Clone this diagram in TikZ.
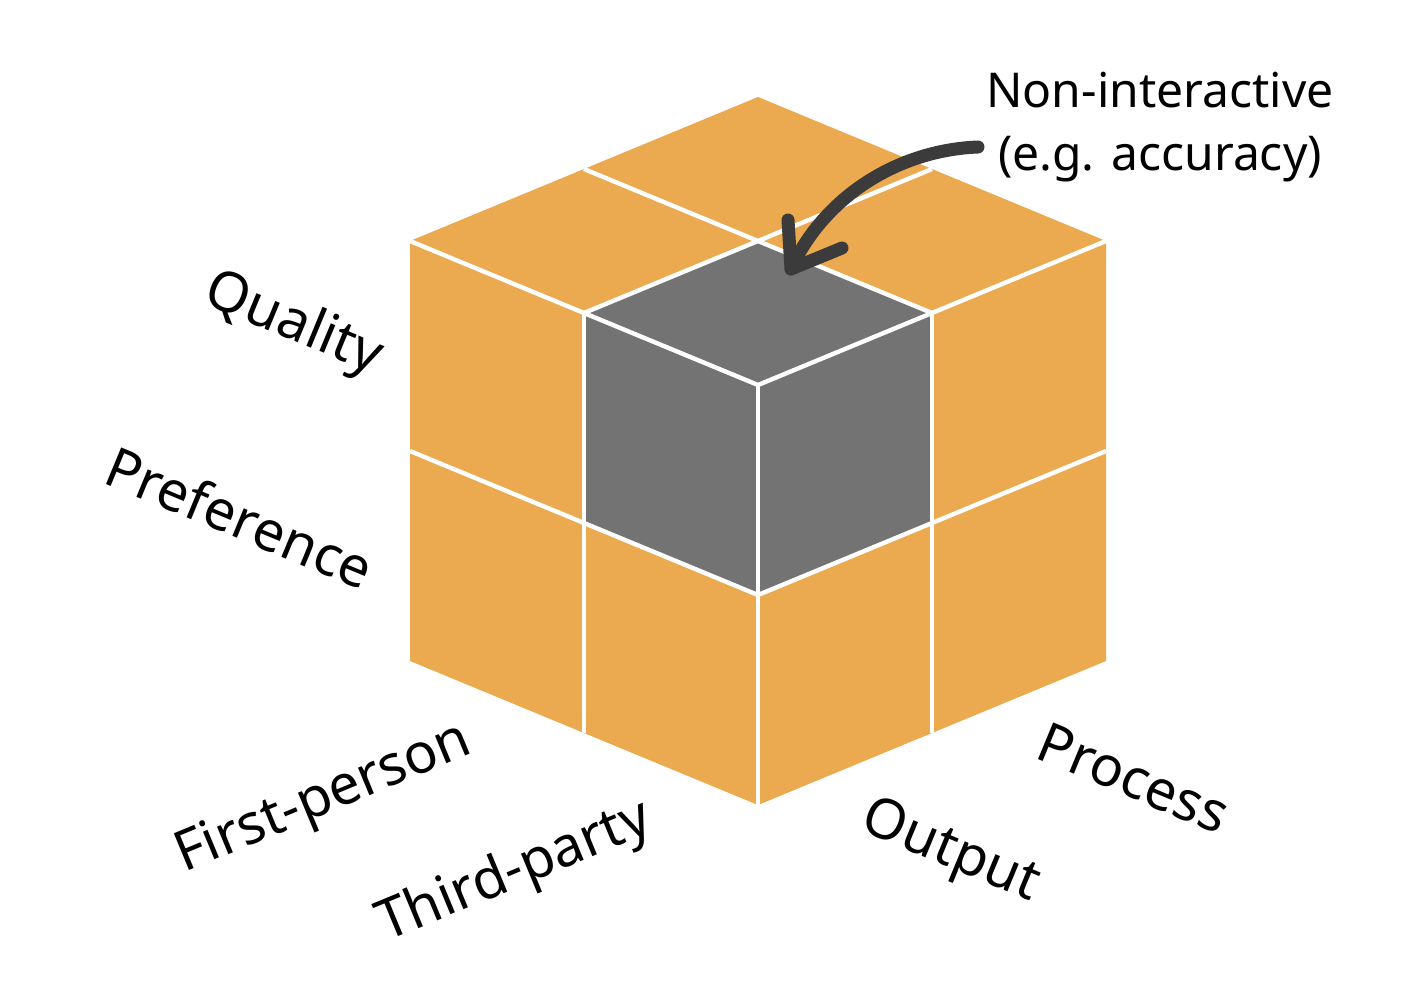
\documentclass[tikz,border=0pt]{standalone}
\usepackage{fontspec}
\setmainfont{Noto Sans}
\definecolor{cubeorange}{HTML}{EBA950}
\definecolor{cubegray}{HTML}{737373}
\definecolor{arrowgray}{HTML}{3B3B3B}
\tikzset{
  gridline/.style={draw=white, line width=2.2pt},
  axislabel/.style={inner sep=0pt, font=\fontsize{27.8pt}{33pt}\selectfont},
  notelabel/.style={inner sep=0pt, align=center, font=\fontsize{24pt}{31.5pt}\selectfont},
  pointer/.style={draw=arrowgray, line width=6.5pt, line cap=round, line join=round}
}
\begin{document}
\begin{tikzpicture}[x=0.5pt, y=-0.5pt]
\useasboundingbox (0,0) rectangle (1426,984);
\coordinate (B) at (758,805);
\begin{scope}[shift={(B)}, x={(87pt,36pt)}, y={(-87pt,36pt)}, z={(0pt,105pt)}]
  \foreach \i in {0,1,2}{
    \foreach \j in {0,1,2}{
      \foreach \k in {0,1,2}{
        \coordinate (p\i\j\k) at (\i,\j,\k);
      }
    }
  }
\end{scope}
% orange body
\fill[cubeorange] (p022) -- (p222) -- (p202) -- (p200) -- (p000) -- (p020) -- cycle;
% highlighted sub-cube
\fill[cubegray] (p012) -- (p112) -- (p102) -- (p101) -- (p001) -- (p011) -- cycle;
% grid lines
\draw[gridline] (p102) -- (p122);
\draw[gridline] (p012) -- (p212);
\draw[gridline] (p010) -- (p012);
\draw[gridline] (p001) -- (p021);
\draw[gridline] (p100) -- (p102);
\draw[gridline] (p001) -- (p201);
\draw[gridline] (p000) -- (p002);
\draw[gridline] (p002) -- (p022);
\draw[gridline] (p002) -- (p202);
% labels
\node[axislabel, rotate=-22.5] (quality) at (293,325) {Quality};
\node[axislabel, rotate=-22.5] (preference) at (240,517) {Preference};
\node[axislabel, rotate=22.5] (firstperson) at (324,800) {First-person};
\node[axislabel, rotate=22.5] (thirdparty) at (515,873) {Third-party};
\node[axislabel, rotate=-22.5] (output) at (950,853) {Output};
\node[axislabel, rotate=-22.5] (process) at (1134,778) {Process};
\node[notelabel] (note) at (1160,127) {Non-interactive\\(e.g. accuracy)};
% pointer arrow
\coordinate (as) at (978,147);
\coordinate (at) at (791,269);
\coordinate (bl) at (788,220);
\coordinate (br) at (842,248);
\draw[pointer] (as) .. controls (900,150) and (825,195) .. (at);
\draw[pointer] (bl) -- (at) -- (br);
\end{tikzpicture}
\end{document}
